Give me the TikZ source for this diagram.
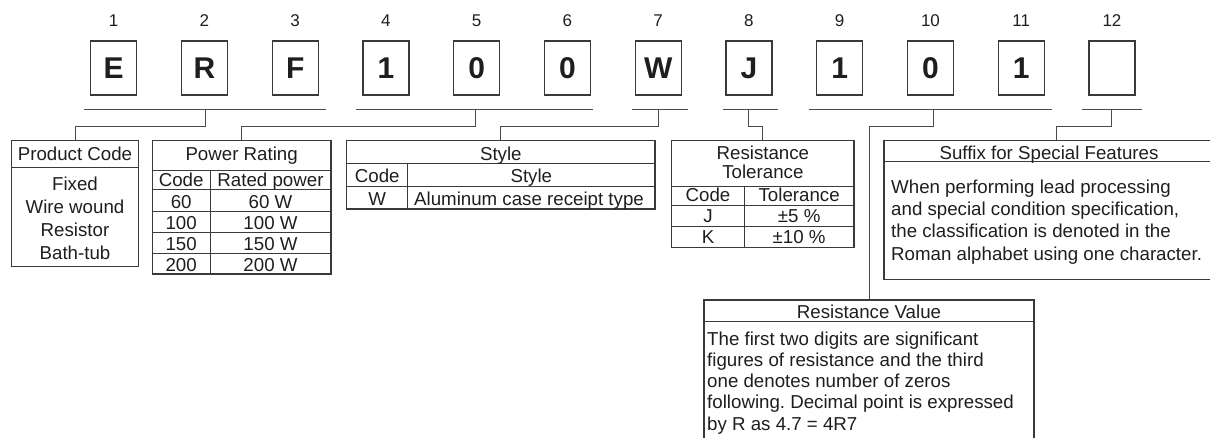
\documentclass[tikz,border=0pt]{standalone}
\usepackage{fontspec}
\setmainfont{Liberation Sans}
\definecolor{ink}{HTML}{1E1E1E}
\definecolor{linec}{HTML}{3A3A3A}
\definecolor{connc}{HTML}{4A4A4A}
\frenchspacing
\begin{document}
\begin{tikzpicture}[x=1pt,y=-1pt,
  charbox/.style={draw=linec, line width=1.2pt, minimum width=46pt, minimum height=54pt, inner sep=0pt,
    font=\fontsize{30}{30}\selectfont\bfseries, text=ink, text height=21.5pt, text depth=0pt},
  numlbl/.style={inner sep=0pt, anchor=base, font=\fontsize{17}{17}\selectfont, text=ink},
  descbox/.style={draw=linec, line width=1.2pt, inner sep=0pt},
  txt/.style={inner sep=0pt, anchor=base, font=\fontsize{18.7}{22}\selectfont\frenchspacing, text=ink},
  txtl/.style={txt, anchor=base west},
  rule/.style={draw=linec, line width=0.9pt},
  uline/.style={draw=connc, line width=0.9pt},
  conn/.style={draw=connc, line width=0.9pt}]
\useasboundingbox (0,0) rectangle (1210,437);
\clip (0,0) rectangle (1210,437);

% character boxes and position numbers
\foreach \i/\ch in {1/E,2/R,3/F,4/1,5/0,6/0,7/W,8/J,9/1,10/0,11/1,12/{}}{
  \pgfmathsetmacro{\cx}{113.7+90.75*(\i-1)}
  \node[charbox] (c\i) at (\cx,68) {\ch};
  \node[numlbl] (n\i) at (\cx,26.7) {\i};
}

% underlines
\draw[uline] (84,109.3) -- (325.7,109.3);
\draw[uline] (356,109.3) -- (593.3,109.3);
\draw[uline] (632.3,109.3) -- (688.3,109.3);
\draw[uline] (723.3,109.3) -- (778.3,109.3);
\draw[uline] (809.3,109.3) -- (1051.7,109.3);
\draw[uline] (1081.7,109.3) -- (1141.7,109.3);
\coordinate (t1) at (205,109.3);
\coordinate (t2) at (475,109.3);
\coordinate (t3) at (658.3,109.3);
\coordinate (t4) at (748.3,109.3);
\coordinate (t5) at (933.3,109.3);
\coordinate (t6) at (1111.7,109.3);

% Product Code
\node[descbox, minimum width=126.6pt, minimum height=126pt] (pc) at (75,203.7) {};
\draw[rule] (11.7,167.3) -- (138.3,167.3);
\node[txt] (pch) at (75,160.7) {Product Code};
\node[txt] (pc1) at (75,190) {Fixed};
\node[txt] (pc2) at (75,213.3) {Wire wound};
\node[txt] (pc3) at (75,236) {Resistor};
\node[txt] (pc4) at (75,259) {Bath-tub};

% Power Rating
\node[descbox, minimum width=178.7pt, minimum height=133.3pt] (pr) at (241.65,207.35) {};
\draw[rule] (152.3,170) -- (331,170);
\draw[rule] (152.3,189.5) -- (331,189.5);
\draw[rule] (152.3,211) -- (331,211);
\draw[rule] (152.3,232.5) -- (331,232.5);
\draw[rule] (152.3,253.5) -- (331,253.5);
\draw[rule] (210,170) -- (210,274);
\node[txt] (prh) at (241.65,160.7) {Power Rating};
\node[txt] (prc0) at (181.15,186.8) {Code};
\node[txt] (prv0) at (270.5,186.8) {Rated power};
\node[txt] (prc1) at (181.15,208.3) {60};
\node[txt] (prv1) at (270.5,208.3) {60 W};
\node[txt] (prc2) at (181.15,229.8) {100};
\node[txt] (prv2) at (270.5,229.8) {100 W};
\node[txt] (prc3) at (181.15,250.8) {150};
\node[txt] (prv3) at (270.5,250.8) {150 W};
\node[txt] (prc4) at (181.15,271.8) {200};
\node[txt] (prv4) at (270.5,271.8) {200 W};

% Style
\node[descbox, minimum width=308.3pt, minimum height=68.3pt] (st) at (500.85,174.85) {};
\draw[rule] (346.7,163.3) -- (655,163.3);
\draw[rule] (346.7,186) -- (655,186);
\draw[rule] (407.7,163.3) -- (407.7,209);
\node[txt] (sth) at (500.85,160) {Style};
\node[txt] (stc0) at (377.2,182.7) {Code};
\node[txt] (stv0) at (531.35,182.7) {Style};
\node[txt] (stc1) at (377.2,205.7) {W};
\node[txt] (stv1) at (529,205.7) {Aluminum case receipt type};

% Resistance Tolerance
\node[descbox, minimum width=182.3pt, minimum height=106.6pt] (tl) at (762.85,194) {};
\draw[rule] (671.7,186) -- (854,186);
\draw[rule] (671.7,205) -- (854,205);
\draw[rule] (671.7,226) -- (854,226);
\draw[rule] (744.3,186) -- (744.3,247.3);
\node[txt] (tlh1) at (762.85,159.3) {Resistance};
\node[txt] (tlh2) at (762.85,178.3) {Tolerance};
\node[txt] (tlc0) at (708,201.7) {Code};
\node[txt] (tlv0) at (799.15,201.7) {Tolerance};
\node[txt] (tlc1) at (708,222.7) {J};
\node[txt] (tlv1) at (799.15,222.7) {±5 \%};
\node[txt] (tlc2) at (708,243.3) {K};
\node[txt] (tlv2) at (799.15,243.3) {±10 \%};

% Suffix for Special Features
\node[descbox, minimum width=330pt, minimum height=138.6pt] (sf) at (1049,210) {};
\draw[rule] (884,161.7) -- (1214,161.7);
\node[txt] (sfh) at (1049,159.3) {Suffix for Special Features};
\node[txtl] (sf1) at (891,193.3) {When performing lead processing};
\node[txtl] (sf2) at (891,215.5) {and special condition specification,};
\node[txtl] (sf3) at (891,237.7) {the classification is denoted in the};
\node[txtl] (sf4) at (891,260) {Roman alphabet using one character.};

% Resistance Value
\node[descbox, minimum width=330pt, minimum height=160pt] (rv) at (869,380) {};
\draw[rule] (704,321) -- (1034,321);
\node[txt] (rvh) at (869,318.3) {Resistance Value};
\node[txtl] (rv1) at (707,345) {The first two digits are significant};
\node[txtl] (rv2) at (707,366.3) {figures of resistance and the third};
\node[txtl] (rv3) at (707,387.5) {one denotes number of zeros};
\node[txtl] (rv4) at (707,408.8) {following. Decimal point is expressed};
\node[txtl] (rv5) at (707,430) {by R as 4.7 = 4R7};

% connectors
\draw[conn] (t1) -- ++(0,17.4) -| (pc.north);
\draw[conn] (t2) -- ++(0,17.4) -| (pr.north);
\draw[conn] (t3) -- ++(0,17.4) -| (st.north);
\draw[conn] (t4) -- ++(0,17.4) -| (tl.north);
\draw[conn] (t5) -- ++(0,17.4) -| (rv.north);
\draw[conn] (t6) -- ++(0,17.4) -| ([xshift=7pt]sf.north);
\end{tikzpicture}
\end{document}
